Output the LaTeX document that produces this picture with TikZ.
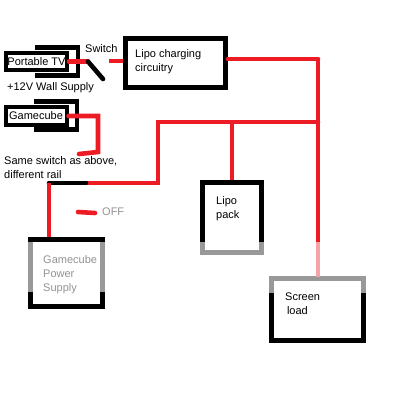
\documentclass[tikz,border=0pt]{standalone}
\usepackage{fontspec}
\setmainfont{Liberation Sans}
\usepackage{xcolor}
\usepackage{tikz}
\definecolor{railred}{HTML}{ED1C24}
\definecolor{railpink}{HTML}{F5A3A6}
\definecolor{edgegray}{HTML}{999999}

\begin{document}
\begin{tikzpicture}[
        x=1pt, y=-1pt,
        txt/.style={anchor=west, inner sep=0pt, font=\fontsize{11pt}{14pt}\selectfont, align=left},
        fadetxt/.style={txt, text=gray!85},
        plug/.style={line width=4.5pt, black},
        tag/.style={draw, line width=4pt, fill=white, inner sep=0pt, font=\fontsize{11pt}{14pt}\selectfont},
        block/.style={draw, line width=4.6pt, fill=white, inner sep=0pt},
        rail/.style={railred, line width=4.6pt, line cap=round},
        fade/.style={edgegray, line width=4.6pt}
    ]
        \useasboundingbox (0,0) rectangle (400,400);

        % connector shells behind the tags
        \draw[plug] (35,47.5) -- (78,47.5) -- (78,75.5) -- (35,75.5);
        \draw[plug] (34,101.5) -- (77,101.5) -- (77,129.5) -- (34,129.5);

        \node[tag, minimum width=61pt, minimum height=17pt] (tv) at (36.5,61.5) {Portable TV};
        \node[tag, minimum width=61pt, minimum height=18pt] (cube) at (36,116) {Gamecube};
        \node[block, minimum width=100pt, minimum height=49.5pt] (charger) at (175.5,63) {};
        \node[block, minimum width=72pt, minimum height=67pt] (power) at (66.5,273) {};
        \node[block, minimum width=59pt, minimum height=70pt] (pack) at (232,217.5) {};
        \node[block, minimum width=92.5pt, minimum height=62.5pt] (screen) at (317.5,309.5) {};

        % grey parts of the outlines
        \draw[fade] (30.3,242) -- (30.3,292);
        \draw[fade] (102.7,242) -- (102.7,292);
        \draw[fade] (202.3,242) |- (261.7,252.7) -- (261.7,242);
        \draw[fade] (271.3,293) |- (363.7,278.3) -- (363.7,293);

        \coordinate (switchin) at (88,61.5);
        \coordinate (switchtip) at (103,79);
        \coordinate (stub) at (109,61);
        \coordinate (topright) at (318,59);
        \coordinate (buswest) at (158,122);
        \coordinate (buseast) at (318,122);
        \coordinate (packtop) at (232,122);
        \coordinate (fadestart) at (318,242);
        \coordinate (cubecorner) at (98,116);
        \coordinate (cubeend) at (98,152);
        \coordinate (railtip) at (79,154);
        \coordinate (buscorner) at (158,183);
        \coordinate (railblack) at (86,183);
        \coordinate (railcorner) at (49,183);
        \coordinate (offa) at (78,212);
        \coordinate (offb) at (95,213);

        \draw[rail] (tv.east) -- (switchin);
        \draw[line width=4.6pt, line cap=round] (switchin) -- (switchtip);
        \draw[rail, line cap=butt] (stub) -- (charger.west |- stub);
        \draw[rail] (charger.east |- topright) -- (topright);
        \draw[railred, line width=4.6pt] (topright) -- (fadestart);
        \draw[railpink, line width=4.6pt] (fadestart) -- (318,277);
        \draw[rail] (buseast) -- (buswest) -- (buscorner) -- (railblack);
        \draw[railred, line width=4.6pt] (packtop) -- (pack.north);
        \draw[rail] (cube.east) -- (cubecorner) -- (cubeend) -- (railtip);
        \draw[line width=4.6pt, line cap=round] (railblack) -- (railcorner);
        \draw[railred, line width=4.6pt] (railcorner) -- (railcorner |- power.north);
        \draw[rail] (offa) -- (offb);

        \node[txt] (switchtxt) at (85,49) {Switch};
        \node[txt] (wall) at (7,88) {+12V Wall Supply};
        \node[txt] (chargertxt) at (135,62) {Lipo charging\\circuitry};
        \node[txt] (same) at (4,168) {Same switch as above,\\different rail};
        \node[fadetxt] (off) at (102,212) {OFF};
        \node[fadetxt] (powertxt) at (43,275) {Gamecube\\Power\\Supply};
        \node[txt] (packtxt) at (216,209) {Lipo\\pack};
        \node[txt] (screentxt) at (285,304) {Screen\\ \,load};
    \end{tikzpicture}
\end{document}
